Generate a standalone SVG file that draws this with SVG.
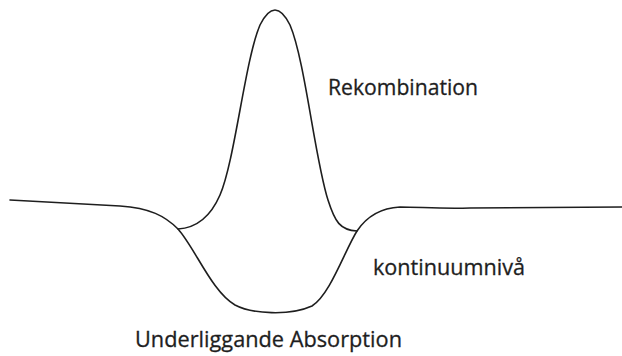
<svg xmlns="http://www.w3.org/2000/svg" width="622" height="356" viewBox="0 0 622 356">
<style>
.c{fill:none;stroke:#1e1e1e;stroke-width:1.6;stroke-linecap:round;stroke-linejoin:round}
.t{font-family:"Open Sans","Noto Sans",sans-serif;font-size:21.5px;fill:#1e1e1e;stroke:#1e1e1e;stroke-width:0.3}
</style>
<rect width="622" height="356" fill="#fff"/>
<g id="connectors">
<path id="continuum" class="c" d="M10,200 L120,206 C150,208 165,216 178,229 C195,248 212,292 235,305 C252,314 290,316 312,306 C330,295 345,250 357,231 C367,216 380,208 400,207 C420,207 440,209 470,208 L622,207"/>
<path id="emission" class="c" d="M178,229 C195,228 210,218 220,195 C235,160 245,60 260,25 C270,5 280,5 290,25 C305,60 315,160 328,200 C335,222 340,230 357,231"/>
</g>
<g id="label-rekombination"><text class="t" x="328" y="95" textLength="150" lengthAdjust="spacingAndGlyphs">Rekombination</text></g>
<g id="label-kontinuum"><text class="t" x="373" y="275" textLength="152" lengthAdjust="spacingAndGlyphs">kontinuumnivå</text></g>
<g id="label-absorption"><text class="t" x="135" y="347" textLength="267" lengthAdjust="spacingAndGlyphs">Underliggande Absorption</text></g>
</svg>
